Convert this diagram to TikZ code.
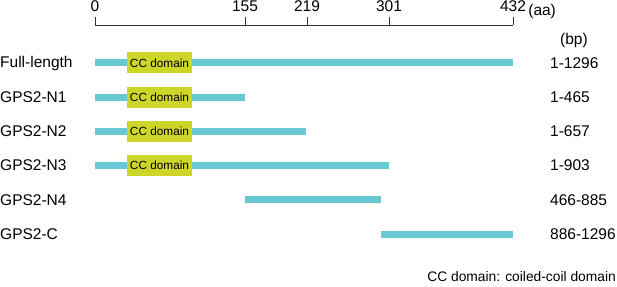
\documentclass[tikz,border=0pt]{standalone}
\usepackage{fontspec}
\setmainfont{Liberation Sans}
\usetikzlibrary{positioning}
\definecolor{barcyan}{RGB}{104,201,212}
\definecolor{ccyellow}{RGB}{205,214,40}

\begin{document}
\begin{tikzpicture}[x=1pt, y=-1pt, font=\fontsize{15.5}{17}\selectfont,
  lbl/.style={anchor=west, inner sep=0pt},
  ticklbl/.style={anchor=base, inner sep=0pt},
  axis/.style={draw=black!80, line width=0.9pt},
  bar/.style={draw=barcyan, line width=7pt},
  cc/.style={fill=ccyellow, minimum width=65pt, minimum height=21pt, inner sep=0pt,
             font=\fontsize{11.8}{13}\selectfont}]

\useasboundingbox (0,0) rectangle (617,286);

% amino acid axis, x = 95 + 0.968*aa
\draw[axis] (95,25) -- (513,25);
\foreach \v/\x in {0/95,155/245,219/307,301/389,432/513}{
  \draw[axis] (\x,25) -- (\x,17);
  \node[ticklbl] (t\v) at (\x,11.7) {\v};
}
\node[anchor=base west, inner sep=0pt, right=2pt of t432.base east] (aa) {(aa)};

\node[lbl] (bp) at (560,40) {(bp)};

% constructs
\foreach \i/\lab/\s/\e/\range/\hascc in {
    0/Full-length/95/513/1-1296/1,
    1/GPS2-N1/95/245/1-465/1,
    2/GPS2-N2/95/306/1-657/1,
    3/GPS2-N3/95/389/1-903/1,
    4/GPS2-N4/245/381/466-885/0,
    5/GPS2-C/381/513/886-1296/0}{
  \pgfmathsetmacro\yy{63+34.2*\i}
  \node[lbl] (name\i) at (0,\yy) {\lab};
  \node[lbl] (range\i) at (550,\yy) {\range};
  \draw[bar] (\s,\yy) -- (\e,\yy);
  \ifnum\hascc=1 \node[cc] (cc\i) at (159.5,\yy) {CC domain};\fi
}

\node[anchor=east, inner sep=0pt, font=\fontsize{13.8}{15}\selectfont] (legend) at (616,277) {CC domain: coiled-coil domain};

\end{tikzpicture}
\end{document}
